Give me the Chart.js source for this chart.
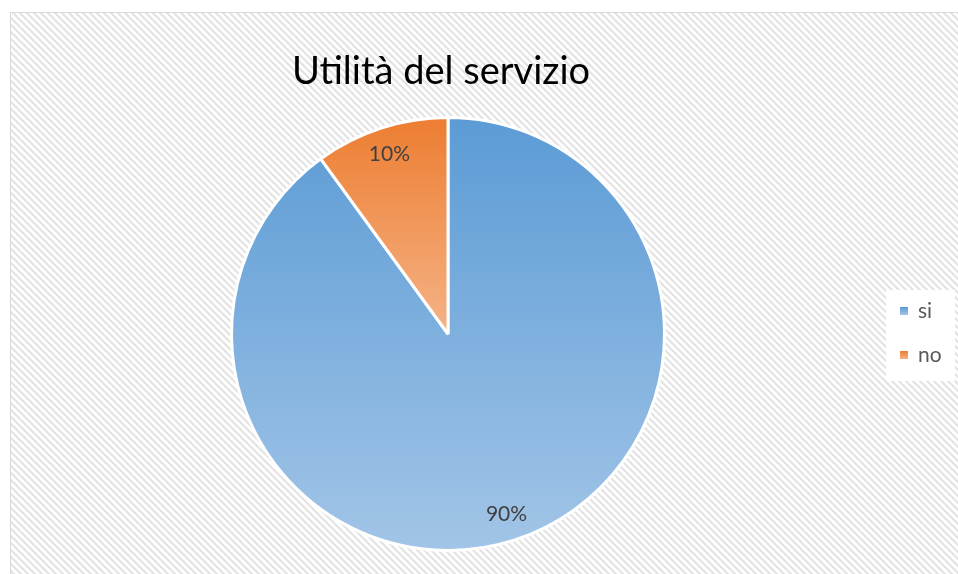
<!DOCTYPE html>
<html>
<head>
<meta charset="utf-8">
<script src="https://cdn.jsdelivr.net/npm/chart.js@4"></script>
<style>
html,body{margin:0;padding:0;background:#fff;}
#wrap{position:relative;width:958px;height:574px;}
</style>
</head>
<body>
<div id="wrap"><canvas id="c" width="958" height="574"></canvas></div>
<script>
const categories = ["si", "no"];
const values = [90, 10];
const titleText = "Utilità del servizio";

const topColors = ["#5B9BD5", "#ED7D31"];
const bottomColors = ["#A2C5E7", "#F5B386"];

function makePattern(ctx) {
  const p = document.createElement('canvas');
  p.width = 7; p.height = 7;
  const g = p.getContext('2d');
  g.fillStyle = '#ffffff';
  g.fillRect(0, 0, 7, 7);
  g.strokeStyle = '#e3e3e3';
  g.lineWidth = 2.2;
  for (let k = -2; k <= 2; k++) {
    g.beginPath();
    g.moveTo(k * 7 - 1, -1);
    g.lineTo(k * 7 + 8, 8);
    g.stroke();
  }
  return ctx.createPattern(p, 'repeat');
}

const bgPlugin = {
  id: 'bg',
  beforeDraw(chart) {
    const ctx = chart.ctx;
    ctx.save();
    ctx.fillStyle = '#ffffff';
    ctx.fillRect(0, 0, chart.width, chart.height);
    ctx.fillStyle = makePattern(ctx);
    ctx.fillRect(10, 12, 948, 562);
    ctx.strokeStyle = '#d9d9d9';
    ctx.lineWidth = 1;
    ctx.beginPath();
    ctx.moveTo(10.5, 574);
    ctx.lineTo(10.5, 12.5);
    ctx.lineTo(958, 12.5);
    ctx.stroke();
    // title
    ctx.fillStyle = '#000000';
    ctx.font = '38px Lato, "Open Sans", sans-serif';
    ctx.textAlign = 'center';
    ctx.textBaseline = 'alphabetic';
    ctx.fillText(titleText, 441, 84);
    // legend
    ctx.fillStyle = '#ffffff';
    ctx.fillRect(886, 290, 69, 91);
    const legY = [311, 355];
    ctx.font = '21px Lato, "Open Sans", sans-serif';
    ctx.textAlign = 'left';
    ctx.textBaseline = 'middle';
    categories.forEach((c, i) => {
      const gr = ctx.createLinearGradient(0, legY[i] - 4, 0, legY[i] + 4);
      gr.addColorStop(0, topColors[i]);
      gr.addColorStop(1, bottomColors[i]);
      ctx.fillStyle = gr;
      ctx.fillRect(900, legY[i] - 4, 8, 8);
      ctx.fillStyle = '#595959';
      ctx.fillText(c, 918, legY[i]);
    });
    ctx.restore();
  }
};

const labelPlugin = {
  id: 'pieLabels',
  afterDatasetsDraw(chart) {
    const ctx = chart.ctx;
    const meta = chart.getDatasetMeta(0);
    const total = values.reduce((a, b) => a + b, 0);
    ctx.save();
    ctx.fillStyle = '#404040';
    ctx.font = '21px Lato, "Open Sans", sans-serif';
    ctx.textAlign = 'center';
    ctx.textBaseline = 'middle';
    meta.data.forEach((arc, i) => {
      const p = arc.getProps(['x', 'y', 'startAngle', 'endAngle', 'outerRadius'], true);
      const mid = (p.startAngle + p.endAngle) / 2;
      const d = p.outerRadius * 0.875;
      const x = p.x + Math.cos(mid) * d;
      const y = p.y + Math.sin(mid) * d;
      ctx.fillText(Math.round(values[i] / total * 100) + '%', x, y);
    });
    ctx.restore();
  }
};

function sliceGradient(context) {
  const chart = context.chart;
  const ca = chart.chartArea;
  const i = context.dataIndex;
  if (!ca) return topColors[i];
  const cx = (ca.left + ca.right) / 2;
  const cy = (ca.top + ca.bottom) / 2;
  const r = Math.min(ca.right - ca.left, ca.bottom - ca.top) / 2;
  const total = values.reduce((a, b) => a + b, 0);
  let cum = 0;
  for (let k = 0; k < i; k++) cum += values[k];
  const a0 = -Math.PI / 2 + cum / total * 2 * Math.PI;
  const a1 = a0 + values[i] / total * 2 * Math.PI;
  const ys = [cy, cy + Math.sin(a0) * r, cy + Math.sin(a1) * r];
  const checks = [Math.PI / 2, 3 * Math.PI / 2, -Math.PI / 2];
  checks.forEach(a => {
    for (let t = a; t <= a1 + 1e-9; t += 2 * Math.PI) {
      if (t >= a0 - 1e-9) ys.push(cy + Math.sin(t) * r);
    }
  });
  const y0 = Math.min(...ys), y1 = Math.max(...ys);
  const g = chart.ctx.createLinearGradient(0, y0, 0, y1);
  g.addColorStop(0, topColors[i]);
  g.addColorStop(1, bottomColors[i]);
  return g;
}

new Chart(document.getElementById('c'), {
  type: 'pie',
  data: {
    labels: categories,
    datasets: [{
      data: values,
      backgroundColor: sliceGradient,
      borderColor: '#ffffff',
      borderWidth: 3
    }]
  },
  options: {
    responsive: false,
    animation: false,
    events: [],
    layout: { padding: { top: 116, bottom: 22, left: 230, right: 292 } },
    plugins: {
      legend: { display: false },
      title: { display: false },
      tooltip: { enabled: false }
    }
  },
  plugins: [bgPlugin, labelPlugin]
});
</script>
</body>
</html>
